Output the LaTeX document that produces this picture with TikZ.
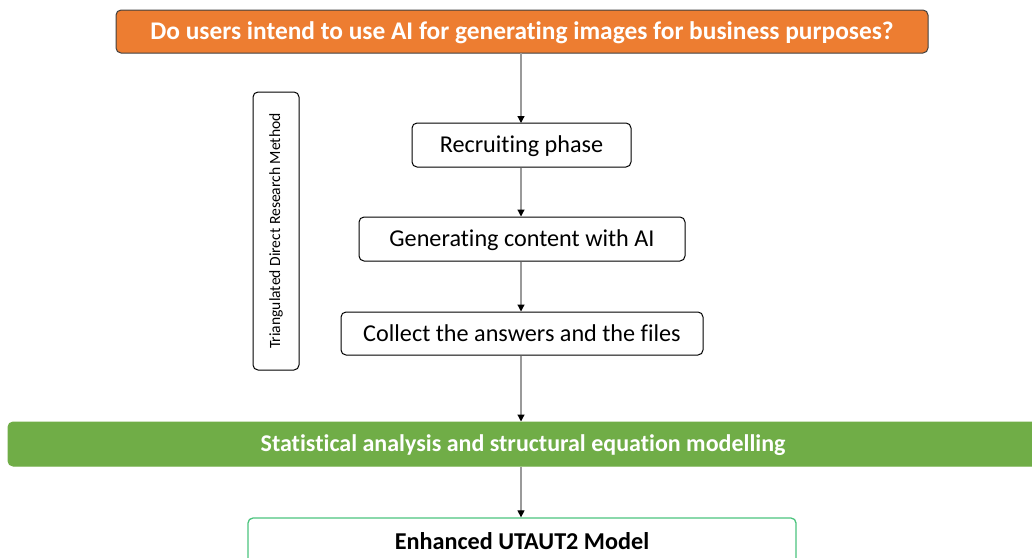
\documentclass[tikz,border=0pt]{standalone}
\usepackage{fontspec}
\setmainfont{Carlito}[Ligatures={NoCommon}]
\usetikzlibrary{arrows.meta}
\definecolor{orangeA}{HTML}{ED7D31}
\definecolor{greenA}{HTML}{70AD47}
\definecolor{greenB}{HTML}{4CC47E}
\definecolor{lineG}{HTML}{9A9A9A}
\tikzset{
  stepbox/.style={draw=black, line width=1pt, rounded corners=5pt, fill=white, inner sep=0pt, text depth=1pt, font=\fontsize{24.2}{28}\selectfont},
  conn/.style={draw=lineG, line width=1.2pt, -{Triangle[width=7pt,length=7pt,color=black]}}
}
\begin{document}
\begin{tikzpicture}[x=1pt,y=-1pt]
\useasboundingbox (0,0) rectangle (1032,557);
\clip (0,0) rectangle (1032,557);
\node[stepbox, fill=orangeA, draw=black!75, minimum width=812pt, minimum height=43pt, text=white, font=\fontsize{25.4}{29}\selectfont\bfseries] (q) at (522,31.5) {Do users intend to use AI for generating images for business purposes?};
\node[stepbox, minimum width=46pt, minimum height=278pt] (tri) at (276,231) {};
\node[rotate=90, font=\fontsize{15.6}{18}\selectfont] (tritext) at (tri.center) {Triangulated Direct Research Method};
\node[stepbox, minimum width=219pt, minimum height=44pt] (rec) at (521.5,145) {Recruiting phase};
\node[stepbox, minimum width=326pt, minimum height=44pt] (gen) at (522,239) {Generating content with AI};
\node[stepbox, minimum width=362pt, minimum height=43pt] (col) at (522,333.5) {Collect the answers and the files};
\node[stepbox, draw=greenA, fill=greenA, minimum width=1030pt, minimum height=44pt, text=white, font=\fontsize{24}{28}\selectfont\bfseries] (sta) at (523,444) {Statistical analysis and structural equation modelling};
\node[stepbox, draw=greenB, line width=1.3pt, minimum width=548pt, minimum height=46pt, font=\fontsize{24.2}{28}\selectfont\bfseries] (utaut) at (522,541) {Enhanced UTAUT2 Model};
\draw[conn] (521,53) -- (521,123);
\draw[conn] (rec.south -| 521,0) -- (gen.north -| 521,0);
\draw[conn] (gen.south -| 521,0) -- (col.north -| 521,0);
\draw[conn] (col.south -| 521,0) -- (sta.north -| 521,0);
\draw[conn] (sta.south -| 521,0) -- (utaut.north -| 521,0);
\end{tikzpicture}
\end{document}
